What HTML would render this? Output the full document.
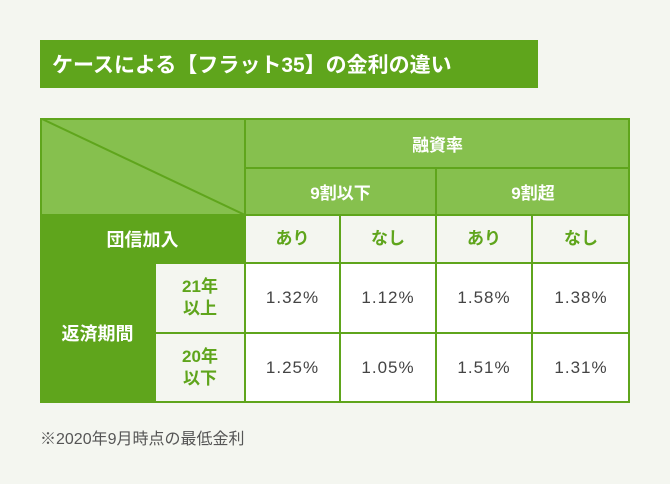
<!DOCTYPE html>
<html><head><meta charset="utf-8"><style>
body{margin:0;width:670px;height:484px;background:#f4f6f0;font-family:"Liberation Sans","Noto Sans CJK JP",sans-serif;position:relative;overflow:hidden}
.a{position:absolute;box-sizing:border-box;display:flex;align-items:center;justify-content:center;text-align:center}
.lg{background:#86c04e;color:#fff;font-weight:bold;font-size:17px}
.dg{background:#5fa51c;color:#fff;font-weight:bold;font-size:18px}
.lt{background:#f4f6f0;color:#5fa51c;font-weight:bold;font-size:17px;line-height:22px}
.v{background:#fff;color:#444;font-size:17px;letter-spacing:1px}
.ln{position:absolute;background:#5fa51c}
</style></head><body>
<div class="a" style="left:40px;top:40px;width:498px;height:48px;background:#5fa51c;color:#fff;font-size:21px;font-weight:bold;justify-content:flex-start;padding-left:12px">ケースによる【フラット35】の金利の違い</div>
<div>
<div class="a lg" style="left:40px;top:118px;width:205px;height:97px"></div>
<svg style="position:absolute;left:40px;top:118px" width="205" height="97"><line x1="0" y1="0" x2="205" y2="97" stroke="#5fa51c" stroke-width="2"/></svg>
<div class="a lg" style="left:245px;top:118px;width:385px;height:50px">融資率</div>
<div class="a lg" style="left:245px;top:168px;width:191px;height:47px">9割以下</div>
<div class="a lg" style="left:436px;top:168px;width:194px;height:47px">9割超</div>
<div class="a dg" style="left:40px;top:215px;width:205px;height:48px">団信加入</div>
<div class="a lt" style="left:245px;top:215px;width:95px;height:48px">あり</div>
<div class="a lt" style="left:340px;top:215px;width:96px;height:48px">なし</div>
<div class="a lt" style="left:436px;top:215px;width:96px;height:48px">あり</div>
<div class="a lt" style="left:532px;top:215px;width:98px;height:48px">なし</div>
<div class="a dg" style="left:40px;top:263px;width:115px;height:140px">返済期間</div>
<div class="a lt" style="left:155px;top:263px;width:90px;height:70px">21年<br>以上</div>
<div class="a lt" style="left:155px;top:333px;width:90px;height:70px">20年<br>以下</div>
<div class="a v" style="left:245px;top:263px;width:95px;height:70px">1.32%</div>
<div class="a v" style="left:340px;top:263px;width:96px;height:70px">1.12%</div>
<div class="a v" style="left:436px;top:263px;width:96px;height:70px">1.58%</div>
<div class="a v" style="left:532px;top:263px;width:98px;height:70px">1.38%</div>
<div class="a v" style="left:245px;top:333px;width:95px;height:70px">1.25%</div>
<div class="a v" style="left:340px;top:333px;width:96px;height:70px">1.05%</div>
<div class="a v" style="left:436px;top:333px;width:96px;height:70px">1.51%</div>
<div class="a v" style="left:532px;top:333px;width:98px;height:70px">1.31%</div>
<!-- grid lines -->
<div class="ln" style="left:40px;top:118px;width:590px;height:2px"></div>
<div class="ln" style="left:40px;top:401px;width:590px;height:2px"></div>
<div class="ln" style="left:40px;top:118px;width:2px;height:285px"></div>
<div class="ln" style="left:628px;top:118px;width:2px;height:285px"></div>
<div class="ln" style="left:244px;top:118px;width:2px;height:285px"></div>
<div class="ln" style="left:245px;top:167px;width:385px;height:2px"></div>
<div class="ln" style="left:40px;top:214px;width:590px;height:2px"></div>
<div class="ln" style="left:40px;top:262px;width:590px;height:2px"></div>
<div class="ln" style="left:155px;top:332px;width:475px;height:2px"></div>
<div class="ln" style="left:435px;top:168px;width:2px;height:235px"></div>
<div class="ln" style="left:339px;top:215px;width:2px;height:188px"></div>
<div class="ln" style="left:531px;top:215px;width:2px;height:188px"></div>
<div class="ln" style="left:154px;top:263px;width:2px;height:140px"></div>
</div>
<div style="position:absolute;left:40px;top:425px;font-size:16px;color:#555">※2020年9月時点の最低金利</div>
</body></html>
